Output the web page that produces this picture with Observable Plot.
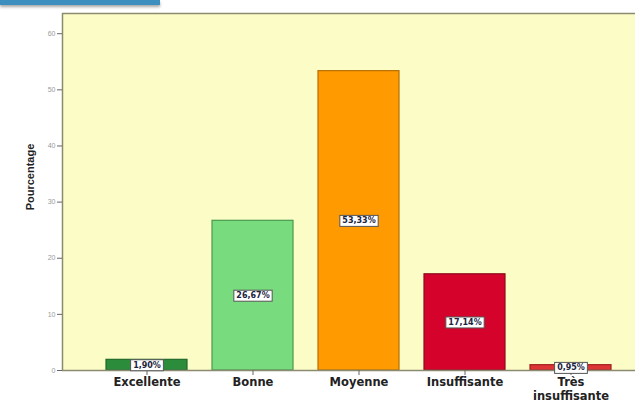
<!DOCTYPE html>
<html><head><meta charset="utf-8">
<script src="https://cdn.jsdelivr.net/npm/d3@7"></script>
<script src="https://cdn.jsdelivr.net/npm/@observablehq/plot@0.6"></script>
<style>
body{margin:0;background:#fff;}
#wrap{position:relative;width:635px;height:405px;overflow:hidden;}
#band{position:absolute;left:0;top:0;width:160px;height:5px;background:#3d8fbf;box-shadow:0 2px 3px rgba(0,0,0,0.35);}
</style>
</head><body>
<div id="wrap"><div id="band"></div></div>
<script>
const categories = ["Excellente","Bonne","Moyenne","Insuffisante","Très insuffisante"];
const values = [1.90, 26.67, 53.33, 17.14, 0.95];
const labels = ["1,90%","26,67%","53,33%","17,14%","0,95%"];
const fills = ["#2b8c3c","#78dc7f","#ff9a00","#d5022b","#dd3535"];
const strokes = ["#1f6a2c","#4a9a50","#b86e00","#8e0a1e","#a02020"];
const yTicks = [0,10,20,30,40,50,60];

const data = categories.map((c,i)=>({c, v: values[i], label: labels[i], fill: fills[i], stroke: strokes[i]}));

const plot = Plot.plot({
  width: 635, height: 405,
  marginLeft: 62, marginRight: 0, marginTop: 13, marginBottom: 35,
  style: {fontFamily: "Arial, 'Liberation Sans', sans-serif", background: "transparent", overflow: "hidden"},
  x: {domain: categories, range: [62, 655], paddingInner: 0.236, paddingOuter: 0.415},
  y: {domain: [0, 63.6]},
  marks: [
    Plot.frame({fill: "#fcfcc6", stroke: null}),
    Plot.barY(data, {x: "c", y: "v", fill: d => d.fill, stroke: d => d.stroke, strokeWidth: 1.2}),
    Plot.frame({stroke: "#8b8b72", strokeWidth: 1.5, insetRight: -6}),
    Plot.axisY({ticks: yTicks, tickSize: 5, tickPadding: 2, fontSize: 7, fill: "#9a9a9a", stroke: "#666", label: null}),
    Plot.axisX({tickSize: 5, tickPadding: 1, fontSize: 11.5, fontWeight: "bold", fill: "#222", stroke: "#666", label: null,
      fontFamily: "'DejaVu Sans', Verdana, sans-serif",
      tickFormat: d => d === "Très insuffisante" ? "Très\ninsuffisante" : d, lineHeight: 1.2}),
    Plot.text(data, {x: "c", y: d => d.v / 2, text: "label", fontSize: 8, fontWeight: "bold", fill: "#1d2440",
      fontFamily: "'DejaVu Sans', Verdana, sans-serif", className: "vlab"}),
    Plot.text(["Pourcentage"], {frameAnchor: "left", textAnchor: "middle", dx: -32, dy: -15, rotate: -90,
      fontWeight: "bold", fontSize: 11, fill: "#222"})
  ]
});
document.getElementById("wrap").appendChild(plot);

// white boxes behind value labels
const g = d3.select(plot).select("g.vlab");
g.selectAll("text").each(function() {
  const b = this.getBBox();
  const t = this.getAttribute("transform");
  const r = document.createElementNS("http://www.w3.org/2000/svg", "rect");
  r.setAttribute("x", b.x - 2.5); r.setAttribute("y", b.y - 1);
  r.setAttribute("width", b.width + 5); r.setAttribute("height", b.height + 2);
  if (t) r.setAttribute("transform", t);
  r.setAttribute("fill", "#fff"); r.setAttribute("stroke", "#555"); r.setAttribute("stroke-width", "1");
  this.parentNode.insertBefore(r, this);
});
</script>
</body></html>
